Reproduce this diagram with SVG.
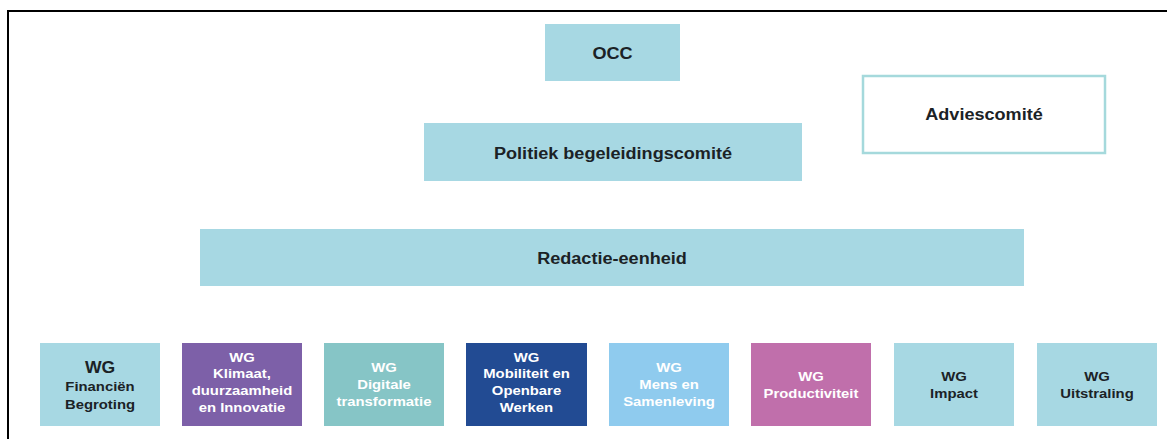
<svg xmlns="http://www.w3.org/2000/svg" width="1167" height="439" viewBox="0 0 1167 439">
<style>
  text { font-family: "Liberation Sans", Arial, sans-serif; font-weight: bold; text-anchor: middle; }
  .lb { fill: #a7d8e3; }
  .dk { fill: #1b2226; }
  .wt { fill: #ffffff; }
  .h { font-size: 16px; }
  .s { font-size: 13.5px; }
  .wg1 { font-size: 16px; }
</style>
<rect x="0" y="0" width="1167" height="439" fill="#ffffff"/>
<rect x="8" y="11" width="1175" height="440" fill="none" stroke="#000000" stroke-width="2"/>
<g id="connectors"></g>

<g id="occ">
  <rect class="lb" x="545" y="24" width="135" height="57"/>
  <text class="h dk" transform="translate(612.5,58.5) scale(1.13,1)">OCC</text>
</g>
<g id="advies">
  <rect x="863" y="76" width="242" height="77" fill="#ffffff" stroke="#a5d9dc" stroke-width="2.5"/>
  <text class="h dk" transform="translate(984,120) scale(1.13,1)">Adviescomité</text>
</g>
<g id="politiek">
  <rect class="lb" x="424" y="123" width="378" height="58"/>
  <text class="h dk" transform="translate(613,158.5) scale(1.13,1)">Politiek begeleidingscomité</text>
</g>
<g id="redactie">
  <rect class="lb" x="200" y="229" width="824" height="57"/>
  <text class="h dk" transform="translate(612,263.5) scale(1.13,1)">Redactie-eenheid</text>
</g>

<g id="wg-financien">
  <rect class="lb" x="40" y="343" width="120" height="83"/>
  <text class="wg1 dk" transform="translate(100,373) scale(1.1,1)">WG</text>
  <text class="s dk" transform="translate(100,391) scale(1.1,1)">Financiën</text>
  <text class="s dk" transform="translate(100,408.5) scale(1.1,1)">Begroting</text>
</g>
<g id="wg-klimaat">
  <rect x="182" y="343" width="120" height="83" fill="#7d60a8"/>
  <text class="s wt" transform="translate(242,361.5) scale(1.1,1)">WG</text>
  <text class="s wt" transform="translate(242,377.5) scale(1.1,1)">Klimaat,</text>
  <text class="s wt" transform="translate(242,394.5) scale(1.1,1)">duurzaamheid</text>
  <text class="s wt" transform="translate(242,411.5) scale(1.1,1)">en Innovatie</text>
</g>
<g id="wg-digitale">
  <rect x="324" y="343" width="120" height="83" fill="#86c5c6"/>
  <text class="s wt" transform="translate(384,371.5) scale(1.1,1)">WG</text>
  <text class="s wt" transform="translate(384,388.5) scale(1.1,1)">Digitale</text>
  <text class="s wt" transform="translate(384,405.5) scale(1.1,1)">transformatie</text>
</g>
<g id="wg-mobiliteit">
  <rect x="466" y="343" width="121" height="83" fill="#224b93"/>
  <text class="s wt" transform="translate(526.5,361.5) scale(1.1,1)">WG</text>
  <text class="s wt" transform="translate(526.5,377.5) scale(1.1,1)">Mobiliteit en</text>
  <text class="s wt" transform="translate(526.5,394.5) scale(1.1,1)">Openbare</text>
  <text class="s wt" transform="translate(526.5,411.5) scale(1.1,1)">Werken</text>
</g>
<g id="wg-mens">
  <rect x="609" y="343" width="120" height="83" fill="#8fcbee"/>
  <text class="s wt" transform="translate(669,371.5) scale(1.1,1)">WG</text>
  <text class="s wt" transform="translate(669,388.5) scale(1.1,1)">Mens en</text>
  <text class="s wt" transform="translate(669,405.5) scale(1.1,1)">Samenleving</text>
</g>
<g id="wg-productiviteit">
  <rect x="751" y="343" width="120" height="83" fill="#c06fab"/>
  <text class="s wt" transform="translate(811,380.5) scale(1.1,1)">WG</text>
  <text class="s wt" transform="translate(811,397.5) scale(1.1,1)">Productiviteit</text>
</g>
<g id="wg-impact">
  <rect class="lb" x="894" y="343" width="120" height="83"/>
  <text class="s dk" transform="translate(954,380.5) scale(1.1,1)">WG</text>
  <text class="s dk" transform="translate(954,397.5) scale(1.1,1)">Impact</text>
</g>
<g id="wg-uitstraling">
  <rect class="lb" x="1037" y="343" width="120" height="83"/>
  <text class="s dk" transform="translate(1097,380.5) scale(1.1,1)">WG</text>
  <text class="s dk" transform="translate(1097,397.5) scale(1.1,1)">Uitstraling</text>
</g>
</svg>
